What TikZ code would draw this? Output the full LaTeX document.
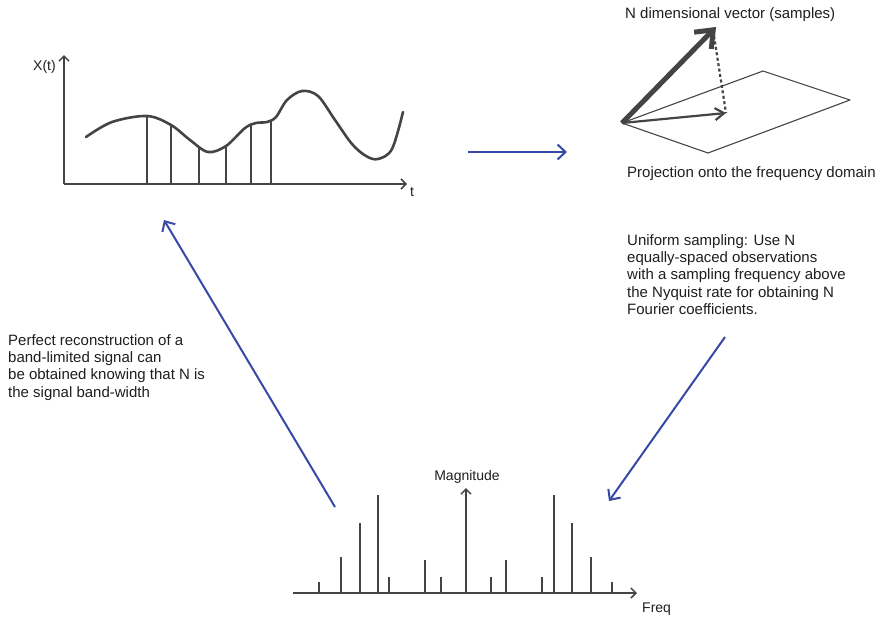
\documentclass[tikz,border=0pt]{standalone}
\usepackage{fontspec}
\setmainfont{Liberation Sans}
\usetikzlibrary{arrows.meta}
\definecolor{arrowblue}{RGB}{55,72,165}
\definecolor{plotgray}{RGB}{68,68,68}
\definecolor{textgray}{RGB}{30,30,30}
\tikzset{
  txt/.style={inner sep=0pt, text=textgray, font=\fontsize{15}{17.4}\selectfont, align=left},
  axlabel/.style={inner sep=0pt, text=textgray, font=\fontsize{14}{16}\selectfont},
  axis/.style={draw=plotgray, line width=1.5pt, -{Straight Barb[length=5pt,width=10pt]}},
  curve/.style={draw=plotgray, line width=2.6pt, line cap=round},
  sampleline/.style={draw=plotgray, line width=1.1pt},
  spike/.style={draw=plotgray, line width=2pt},
  flow/.style={draw=arrowblue, line width=2pt, -{Straight Barb[length=8pt,width=15pt]}},
}
\begin{document}
\begin{tikzpicture}[x=1pt,y=-1pt]
\useasboundingbox (0,0) rectangle (880,619);

% ---------- time-domain plot ----------
\coordinate (o1) at (64,184);
\coordinate (yt) at (64,55);
\coordinate (xt) at (407,184);
\draw[axis] (o1) -- (yt);
\draw[axis] (o1) -- (xt);
\node[axlabel, anchor=base east] (xlab) at (56,70) {X(t)};
\node[axlabel, anchor=base west] (tlab) at (410,196) {t};
\draw[curve] plot[smooth, tension=0.55] coordinates {
 (86,137) (112,122) (147,116) (171,125) (190,140) (208,152) (226,146) (245,128) (256,123) (267,122) (276,117) (287,100) (302,91) (318,96) (335,120) (352,144) (366,156) (378,159) (392,149) (403,112)};
\foreach \x/\t in {147/116, 171/125, 199/148, 226/146, 251/125, 271/121}
  \draw[sampleline] (\x,184) -- (\x,\t);

% ---------- vector / projection ----------
\coordinate (pl) at (622,123);
\coordinate (pt) at (763,71);
\coordinate (pr) at (850,100);
\coordinate (pb) at (708,153);
\draw[plotgray, line width=1.1pt, line join=round] (pl) -- (pt) -- (pr) -- (pb) -- cycle;
\coordinate (vtip) at (716,27);
\coordinate (ptip) at (726,113);
\draw[plotgray, line width=2.2pt, dash pattern=on 3pt off 2.5pt] (714,36) -- (ptip);
\draw[plotgray, line width=5pt, -{Straight Barb[length=15pt,width=24pt]}] (pl) -- (vtip);
\draw[plotgray, line width=2.2pt, -{Straight Barb[length=9pt,width=12pt]}] (pl) -- (ptip);
\node[txt, anchor=base west] (ndim) at (625,18) {N dimensional vector (samples)};
\node[txt, anchor=base west] (proj) at (627,177) {Projection onto the frequency domain};

% ---------- texts ----------
\node[txt, anchor=north west] (unif) at (627,234) {Uniform sampling: Use N\\equally-spaced observations\\with a sampling frequency above\\the Nyquist rate for obtaining N\\Fourier coefficients.};
\node[txt, anchor=north west] (perf) at (8,334) {Perfect reconstruction of a\\band-limited signal can\\be obtained knowing that N is\\the signal band-width};

% ---------- spectrum ----------
\coordinate (o2) at (466,593);
\coordinate (fl) at (293,593);
\coordinate (fr) at (637,593);
\coordinate (mt) at (466,488);
\draw[plotgray, line width=1.5pt] (fl) -- (o2);
\draw[axis] (o2) -- (fr);
\draw[axis] (o2) -- (mt);
\node[axlabel, anchor=base] (mag) at (467,480) {Magnitude};
\node[axlabel, anchor=base west] (freq) at (642,612) {Freq};
\foreach \x/\t in {319/582, 341/557, 360/523, 378/495, 389/577, 425/560, 441/577, 491/577, 506/560, 542/577, 554/495, 572/523, 591/557, 612/582}
  \draw[spike] (\x,593) -- (\x,\t);

% ---------- flow arrows ----------
\coordinate (a1s) at (468,152);
\coordinate (a1e) at (567,152);
\coordinate (a2s) at (725,337);
\coordinate (a2e) at (609,501);
\coordinate (a3s) at (335,507);
\coordinate (a3e) at (164,220);
\draw[flow] (a1s) -- (a1e);
\draw[flow] (a2s) -- (a2e);
\draw[flow] (a3s) -- (a3e);
\end{tikzpicture}
\end{document}
